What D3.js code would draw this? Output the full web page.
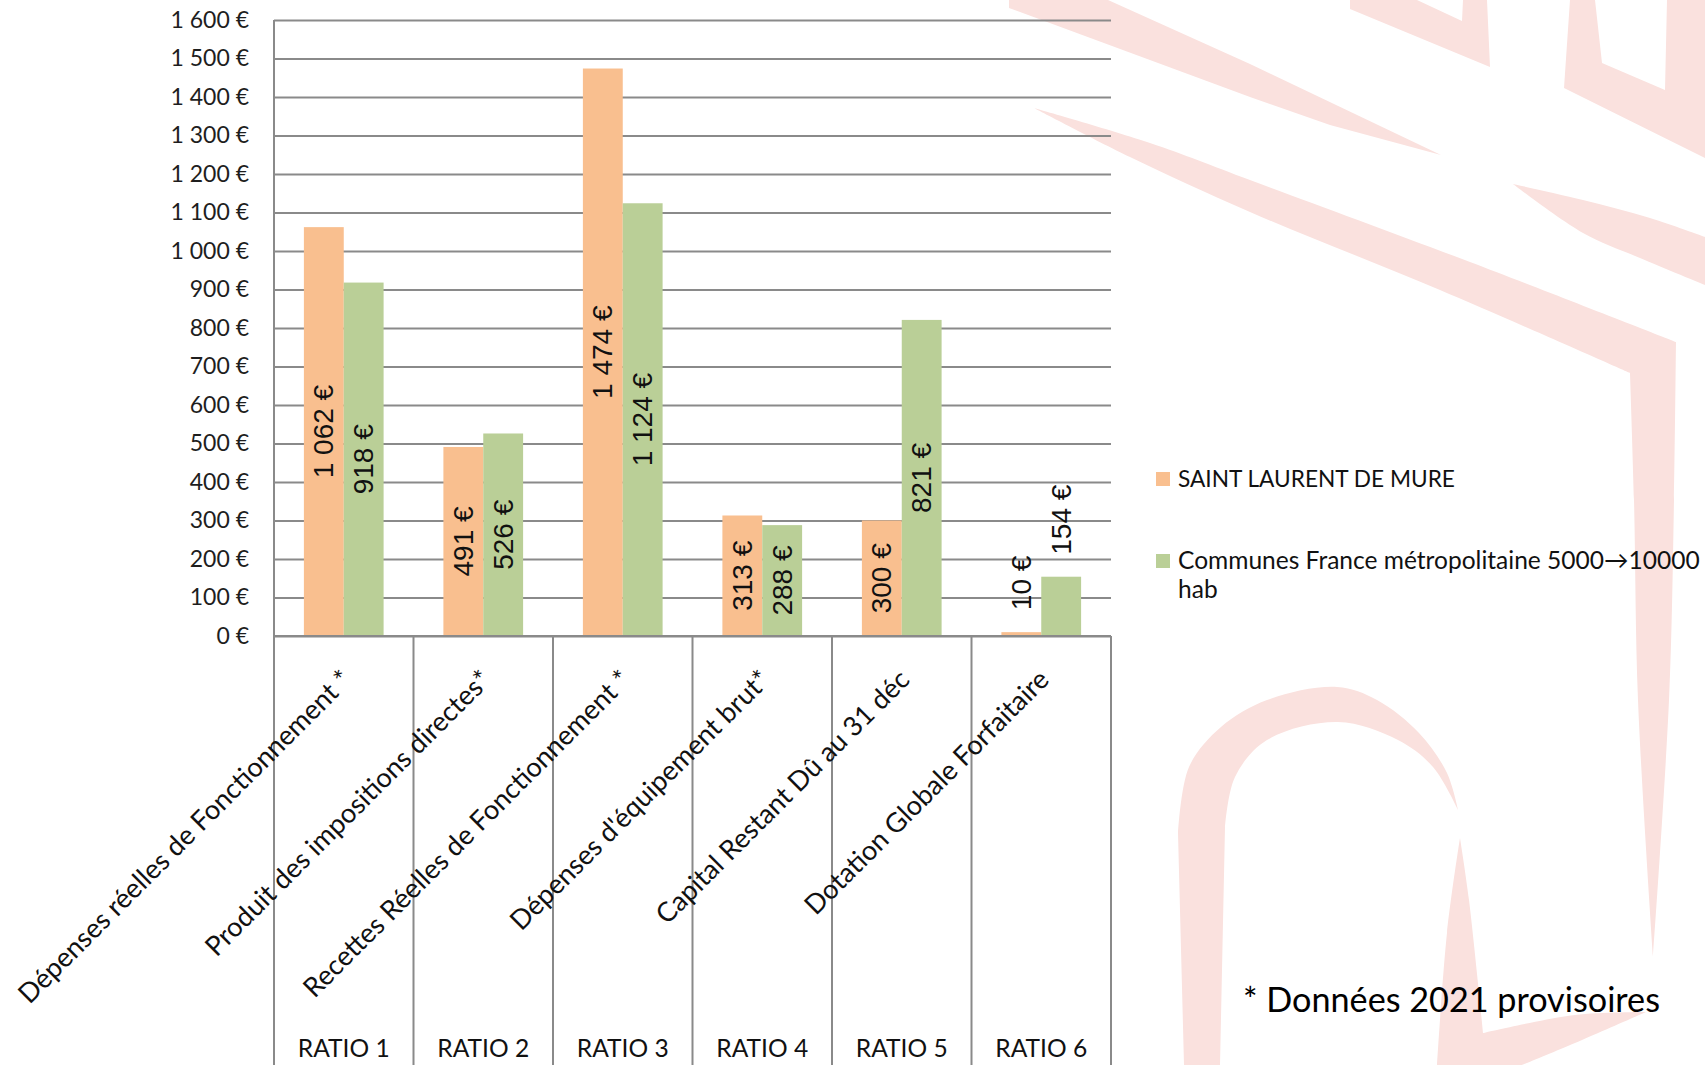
<!DOCTYPE html>
<html lang="fr">
<head>
<meta charset="utf-8">
<script src="https://cdn.jsdelivr.net/npm/d3@7"></script>
<style>
  html, body { margin: 0; padding: 0; background: #fff; }
  svg { display: block; }
</style>
</head>
<body>
<svg id="chart" width="1705" height="1065"></svg>
<script>
// ---------------- DATA ----------------
const categories = [
  "Dépenses réelles de Fonctionnement *",
  "Produit des impositions directes*",
  "Recettes Réelles de Fonctionnement *",
  "Dépenses d'équipement brut*",
  "Capital Restant Dû au 31 déc",
  "Dotation Globale Forfaitaire"
];
const ratioLabels = ["RATIO 1", "RATIO 2", "RATIO 3", "RATIO 4", "RATIO 5", "RATIO 6"];
const seriesNames = ["SAINT LAURENT DE MURE", "Communes France métropolitaine 5000→10000 hab"];
const saintLaurent = [1062, 491, 1474, 313, 300, 10];
const communes = [918, 526, 1124, 288, 821, 154];
const yTickValues = [0, 100, 200, 300, 400, 500, 600, 700, 800, 900, 1000, 1100, 1200, 1300, 1400, 1500, 1600];
const footnote = "* Données 2021 provisoires";

// ---------------- LAYOUT ----------------
const W = 1705, H = 1065;
const plot = { left: 274, right: 1111, top: 20, bottom: 636 };
const colors = ["#F9BF8F", "#BACF97"];
const gridColor = "#8a8a8a";
const pink = "#FAE1DE";
const mainFont = "Lato, 'Open Sans', sans-serif";
const labelFont = "'Liberation Sans', Arial, sans-serif";

const svg = d3.select("#chart");
svg.append("rect").attr("width", W).attr("height", H).attr("fill", "#fff");

// ---------------- BACKGROUND LOGO (decor) ----------------
const bg = svg.append("g").attr("fill", pink);
const lineC = d3.line().curve(d3.curveCatmullRom.alpha(0.5));
const poly = pts => "M" + pts.map(p => p.join(",")).join("L") + "Z";

// blade A
bg.append("path").attr("d", poly([[1009, 0], [1108, 0], [1250, 64], [1441, 155], [1330, 125], [1250, 97], [1009, 8]]));
// blade B with vertical bar
bg.append("path").attr("d",
  lineC([[1034, 108], [1150, 143], [1250, 180], [1470, 262], [1676, 342]]) +
  "L" + lineC([[1676, 342], [1674, 500], [1669, 700], [1653, 957]]).slice(1) +
  "L" + lineC([[1653, 957], [1638, 700], [1634, 500], [1630, 373]]).slice(1) +
  "L" + lineC([[1630, 373], [1440, 290], [1250, 212], [1130, 157], [1034, 108]]).slice(1) + "Z");
// blade C
bg.append("path").attr("d",
  lineC([[1513, 184], [1583, 200], [1650, 218], [1705, 237]]) + "L1705,285" +
  "L" + lineC([[1705, 285], [1640, 258], [1583, 233], [1513, 184]]).slice(1) + "Z");
// top shapes
bg.append("path").attr("d", poly([[1350, 0], [1350, 9], [1490, 67], [1487, 0], [1463, 0], [1462, 21], [1417, 0]]));
bg.append("path").attr("d", poly([[1570, 0], [1564, 88], [1705, 158], [1705, 0], [1667, 0], [1665, 90], [1602, 63], [1595, 0]]));
// arch
bg.append("path").attr("d",
  "M1184,1065L1178,833" +
  "L" + lineC([[1178, 833], [1189, 767], [1221, 727], [1267, 700], [1337, 687], [1377, 700], [1419, 733], [1447, 773], [1458, 810]]).slice(1) +
  "L" + lineC([[1458, 810], [1433, 767], [1398, 740], [1338, 722], [1267, 740], [1235, 777], [1225, 827]]).slice(1) +
  "L1220,1065Z");
// lower right blade + wedge
bg.append("path").attr("d",
  lineC([[1460, 838], [1447, 933], [1437, 1065]]) + "L1522,1065" +
  "L" + lineC([[1522, 1065], [1575, 1043], [1646, 1012]]).slice(1) +
  "L" + lineC([[1646, 1012], [1575, 1015], [1483, 1033]]).slice(1) +
  "L" + lineC([[1483, 1033], [1469, 900], [1460, 838]]).slice(1) + "Z");

// ---------------- SCALES ----------------
const y = d3.scaleLinear().domain([0, 1600]).range([plot.bottom, plot.top]);
const x0 = d3.scaleBand().domain(d3.range(categories.length)).range([plot.left, plot.right]).padding(0);
const bw = x0.bandwidth();
const barW = bw / 3.5;            // gap width 150 %
const groupOffset = (bw - 2 * barW) / 2;
const x1 = d3.scaleBand().domain([0, 1]).range([0, 2 * barW]).padding(0);

const locale = d3.formatLocale({ decimal: ",", thousands: " ", grouping: [3], currency: ["", " €"] });
const fmt = locale.format("$,.0f");

// ---------------- GRID + Y AXIS ----------------
const yAxis = d3.axisLeft(y).tickValues(yTickValues).tickSize(-(plot.right - plot.left)).tickFormat(fmt).tickPadding(25);
const gy = svg.append("g").attr("transform", `translate(${plot.left},0)`).call(yAxis);
gy.select(".domain").remove();
gy.selectAll(".tick line").attr("stroke", gridColor).attr("stroke-width", 2);
gy.selectAll(".tick text").attr("font-family", mainFont).attr("font-size", 23).attr("fill", "#1e1e1e");

// vertical axis line (extends down through category area)
svg.append("line").attr("x1", plot.left).attr("x2", plot.left).attr("y1", plot.top).attr("y2", H)
  .attr("stroke", gridColor).attr("stroke-width", 2);

// category dividers below the axis
const divs = d3.range(1, categories.length + 1).map(i => plot.left + i * bw);
svg.append("g").selectAll("line").data(divs).join("line")
  .attr("x1", d => d).attr("x2", d => d).attr("y1", plot.bottom).attr("y2", H)
  .attr("stroke", gridColor).attr("stroke-width", 2);

// ---------------- BARS ----------------
const rows = categories.map((c, i) => ({ i, vals: [saintLaurent[i], communes[i]] }));
const groups = svg.append("g").selectAll("g").data(rows).join("g")
  .attr("transform", d => `translate(${x0(d.i) + groupOffset},0)`);
groups.selectAll("rect").data(d => d.vals.map((v, k) => ({ v, k }))).join("rect")
  .attr("x", d => x1(d.k)).attr("width", x1.bandwidth())
  .attr("y", d => y(d.v)).attr("height", d => y(0) - y(d.v))
  .attr("fill", d => colors[d.k]);

// axis baseline on top of bars
svg.append("line").attr("x1", plot.left).attr("x2", plot.right).attr("y1", y(0)).attr("y2", y(0))
  .attr("stroke", gridColor).attr("stroke-width", 2);

// ---------------- DATA LABELS ----------------
groups.selectAll("text.val").data(d => d.vals.map((v, k) => ({ v, k }))).join("text")
  .attr("class", "val")
  .attr("font-family", labelFont).attr("font-size", 28).attr("fill", "#111")
  .text(d => fmt(d.v))
  .each(function (d) {
    const len = this.getComputedTextLength();
    const cx = x1(d.k) + x1.bandwidth() / 2;
    const hBar = y(0) - y(d.v);
    const t = d3.select(this).attr("dominant-baseline", "central");
    if (len + 10 < hBar) {
      const cy = (y(0) + y(d.v)) / 2;
      t.attr("text-anchor", "middle").attr("transform", `translate(${cx},${cy}) rotate(-90)`);
    } else {
      t.attr("text-anchor", "start").attr("transform", `translate(${cx},${y(d.v) - 22}) rotate(-90)`);
    }
  });

// ---------------- CATEGORY LABELS ----------------
const catG = svg.append("g");
const catTexts = catG.selectAll("text").data(categories).join("text")
  .attr("font-family", mainFont).attr("font-size", 25).attr("fill", "#111")
  .attr("text-anchor", "end").attr("dominant-baseline", "central")
  .attr("transform", (d, i) => `translate(${x0(i) + bw / 2 + 2},674) rotate(-45)`)
  .text(d => d);
const firstLen = catTexts.nodes()[0].getComputedTextLength();
catTexts.attr("font-size", 25 * 458 / firstLen);

// ratio labels
const ratioT = svg.append("g").selectAll("text").data(ratioLabels).join("text")
  .attr("x", (d, i) => x0(i) + bw / 2).attr("y", 1057)
  .attr("text-anchor", "middle").attr("font-family", mainFont).attr("font-size", 25).attr("fill", "#111")
  .text(d => d);
const rLen = ratioT.nodes()[0].getComputedTextLength();
ratioT.attr("font-size", 25 * 92 / rLen);

// ---------------- LEGEND ----------------
const leg = svg.append("g");
const legItems = [
  { lines: [seriesNames[0]], sy: 472, base: 487, target: 277 },
  { lines: ["Communes France métropolitaine 5000→10000", "hab"], sy: 554, base: 569, target: 522 }
];
legItems.forEach((it, k) => {
  leg.append("rect").attr("x", 1156).attr("y", it.sy).attr("width", 14).attr("height", 14).attr("fill", colors[k]);
  const t = leg.append("text").attr("x", 1178).attr("y", it.base)
    .attr("font-family", mainFont).attr("font-size", 20).attr("fill", "#111");
  const spans = it.lines.map((ln, j) =>
    t.append("tspan").attr("x", 1178).attr("dy", j === 0 ? 0 : 29).text(ln));
  const len = spans[0].node().getComputedTextLength();
  t.attr("font-size", 20 * it.target / len);
});

// ---------------- FOOTNOTE ----------------
const fn = svg.append("text").attr("x", 1243).attr("y", 1012)
  .attr("font-family", mainFont).attr("font-size", 32).attr("fill", "#000").text(footnote);
fn.attr("font-size", 32 * 417 / fn.node().getComputedTextLength());
</script>
</body>
</html>
